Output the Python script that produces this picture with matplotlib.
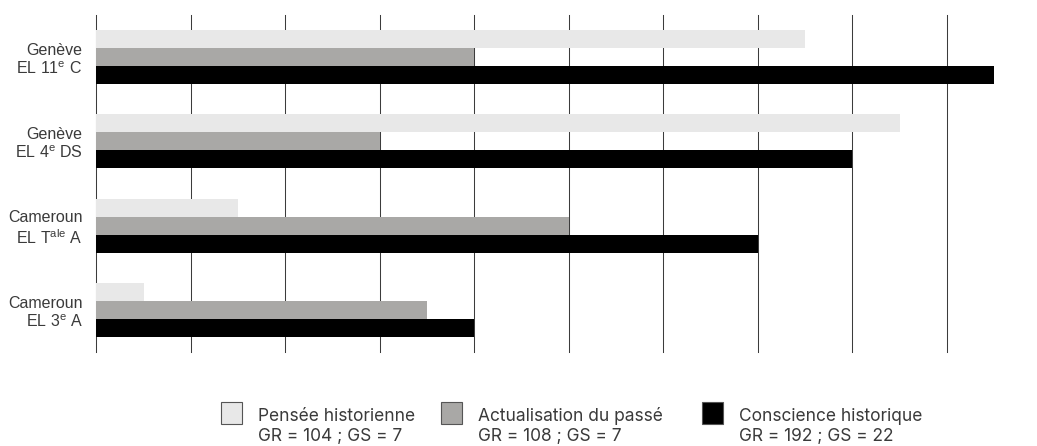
import matplotlib
matplotlib.use("Agg")
import matplotlib.pyplot as plt
from matplotlib.patches import Rectangle
import numpy as np

# groups, top to bottom
groups = ["Genève\nEL 11$^{\\mathrm{e}}$ C",
          "Genève\nEL 4$^{\\mathrm{e}}$ DS",
          "Cameroun\nEL T$^{\\mathrm{ale}}$ A",
          "Cameroun\nEL 3$^{\\mathrm{e}}$ A"]
series = ["Pensée historienne", "Actualisation du passé", "Conscience historique"]
pensee = [7.5, 8.5, 1.5, 0.5]
actualisation = [4.0, 3.0, 5.0, 3.5]
conscience = [9.5, 8.0, 7.0, 4.0]
gr = [104, 108, 192]
gs = [7, 7, 22]
colors = ["#e8e8e8", "#a9a8a6", "#000000"]

plt.rcParams['mathtext.fontset'] = 'custom'
plt.rcParams['mathtext.rm'] = 'Liberation Sans'

W, H = 1037, 446
fig = plt.figure(figsize=(W / 100, H / 100), dpi=100)

# axes placed in pixels: left 96, top 15, bottom 352
unit = 94.52
xmax = 9.6
ax = fig.add_axes([96.3 / W, 1 - 352 / H, xmax * unit / W, 337 / H])

y = np.arange(len(groups))
bh = 0.2136
for i, vals in enumerate([pensee, actualisation, conscience]):
    ax.barh(y + (i - 1) * bh, vals, height=bh, color=colors[i], zorder=2)

ax.set_xlim(0, xmax)
ax.set_ylim(len(groups) - 0.5, -0.5)
ax.set_xticks(np.arange(0, 10))
ax.set_xticklabels([])
ax.grid(axis='x', color='#3c3c3c', linewidth=0.75, zorder=1)
ax.set_axisbelow(True)
for line in ax.get_xgridlines():
    line.set_clip_on(False)
ax.tick_params(axis='both', length=0)
ax.tick_params(axis='y', pad=10)
ax.set_yticks(y)
ax.set_yticklabels(groups, fontsize=11.5, family='Liberation Sans', color='#3a3a3a',
                   linespacing=1.18)
for s in ax.spines.values():
    s.set_visible(False)

# legend drawn by hand
def px(xp, yp):
    return xp / W, 1 - yp / H

box_x = [221, 441, 702]
for i in range(3):
    x0, y0 = px(box_x[i], 424)
    fig.add_artist(Rectangle((x0, y0), 21 / W, 22 / H, transform=fig.transFigure,
                             facecolor=colors[i], edgecolor='#555555', linewidth=0.8))
    tx, ty1 = px(box_x[i] + 37, 421)
    _, ty2 = px(box_x[i] + 37, 441.5)
    fig.text(tx, ty1, series[i], fontsize=12.5, family='Inter', color='#3a3a3a',
             va='baseline')
    fig.text(tx, ty2, "GR = %d ; GS = %d" % (gr[i], gs[i]), fontsize=12.5, family='Inter',
             color='#3a3a3a', va='baseline')

fig.savefig("out.png", dpi=100)
